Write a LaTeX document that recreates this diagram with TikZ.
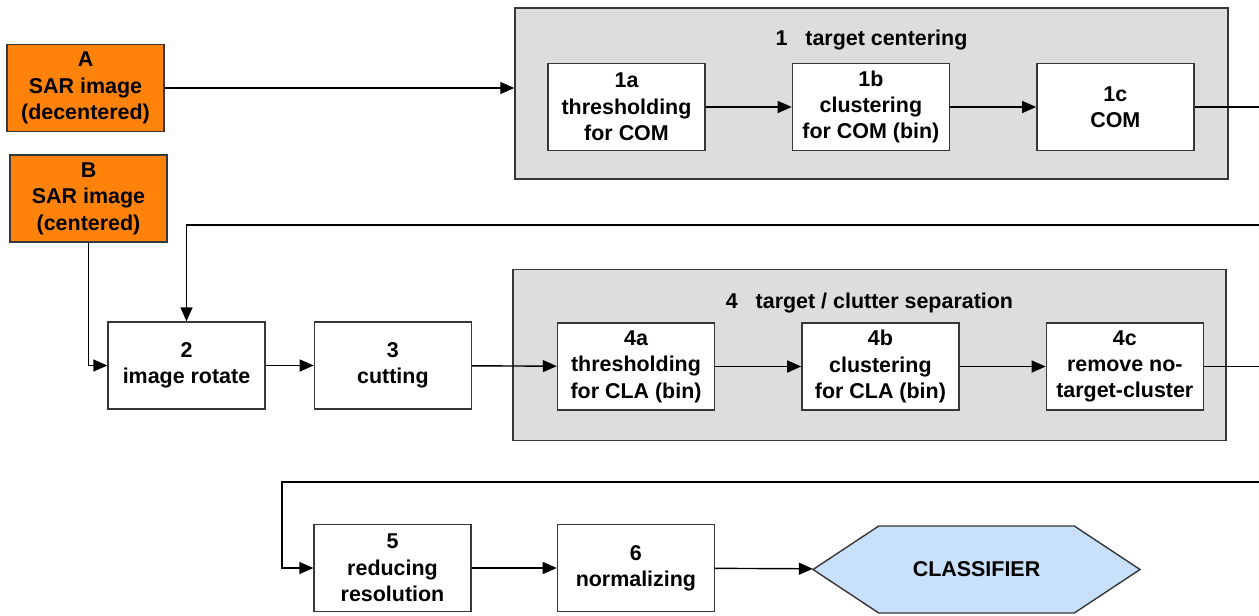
\documentclass[tikz,border=0pt]{standalone}
\usepackage{fontspec}
\setmainfont{Liberation Sans}
\usepackage{xcolor}
\usepackage{tikz}
\usetikzlibrary{shapes.symbols,arrows.meta,positioning}

\definecolor{sarorange}{RGB}{255,130,10}
\definecolor{groupgray}{RGB}{221,221,221}
\definecolor{classblue}{RGB}{200,224,250}
\definecolor{edgegray}{RGB}{55,55,55}

\begin{document}
\begin{tikzpicture}[
    node distance=1.72cm,
    font=\fontsize{12.2}{15}\selectfont\bfseries,
    box/.style={rectangle, draw=edgegray, line width=0.8pt, fill=white, align=center, minimum width=3.14cm, minimum height=1.74cm, inner sep=1pt},
    input/.style={box, fill=sarorange},
    group/.style={rectangle, draw=edgegray, line width=0.8pt, fill=groupgray, minimum width=14.26cm, minimum height=3.42cm},
    title/.style={inner sep=0pt},
    classifier/.style={signal, signal to=east and west, signal pointer angle=67, draw=edgegray, line width=0.8pt, fill=classblue, minimum width=6.54cm, minimum height=1.74cm},
    arrow/.style={line width=0.8pt, -{Triangle[length=0.28cm, width=0.24cm]}}
]
\useasboundingbox (0,0) rectangle (25.18,-12.30);

% Inputs
\node[input] (sarA) at (1.71,-1.76) {A\\SAR image\\(decentered)};
\node[input] (sarB) at (1.77,-3.97) {B\\SAR image\\(centered)};

% 1 target centering
\node[group] (cent) at (17.43,-1.87) {};
\node[title] at ([yshift=-0.66cm]cent.north) {1\ \ \ target centering};
\node[box] (thrCOM) at (12.53,-2.14) {1a\\thresholding\\for COM};
\node[box, right=of thrCOM] (cluCOM) {1b\\clustering\\for COM (bin)};
\node[box, right=of cluCOM] (com) {1c\\COM};

% 2 and 3
\node[box] (rot) at (3.73,-7.31) {2\\image rotate};
\node[box, right=0.96cm of rot] (cut) {3\\cutting};

% 4 target / clutter separation
\node[group] (sep) at (17.39,-7.10) {};
\node[title] at ([yshift=-0.68cm]sep.north) {4\ \ \ target / clutter separation};
\node[box] (thrCLA) at (12.72,-7.33) {4a\\thresholding\\for CLA (bin)};
\node[box, right=of thrCLA] (cluCLA) {4b\\clustering\\for CLA (bin)};
\node[box, right=of cluCLA] (remove) {4c\\remove no-\\target-cluster};

% 5, 6 and classifier
\node[box] (reduce) at (7.85,-11.36) {5\\reducing\\resolution};
\node[box, right=1.70cm of reduce] (norm) {6\\normalizing};
\node[classifier] (cls) at (19.53,-11.39) {CLASSIFIER};

% Turning points
\coordinate (turnA) at (25.26,-4.50);
\coordinate (turnB) at (25.26,-9.64);
\coordinate (turnC) at (5.64,-9.64);

% Arrows
\draw[arrow] (sarA) -- (sarA -| cent.west);
\draw[arrow] (thrCOM) -- (cluCOM);
\draw[arrow] (cluCOM) -- (com);
\draw[arrow] (com.east) -| (turnA) -| (rot.north);
\draw[arrow] (sarB.south) |- (rot.west);
\draw[arrow] (rot) -- (cut);
\draw[arrow] (cut) -- (thrCLA);
\draw[arrow] (thrCLA) -- (cluCLA);
\draw[arrow] (cluCLA) -- (remove);
\draw[arrow] (remove.east) -| (turnB) -- (turnC) |- (reduce.west);
\draw[arrow] (reduce) -- (norm);
\draw[arrow] (norm) -- (cls);

\end{tikzpicture}
\end{document}
